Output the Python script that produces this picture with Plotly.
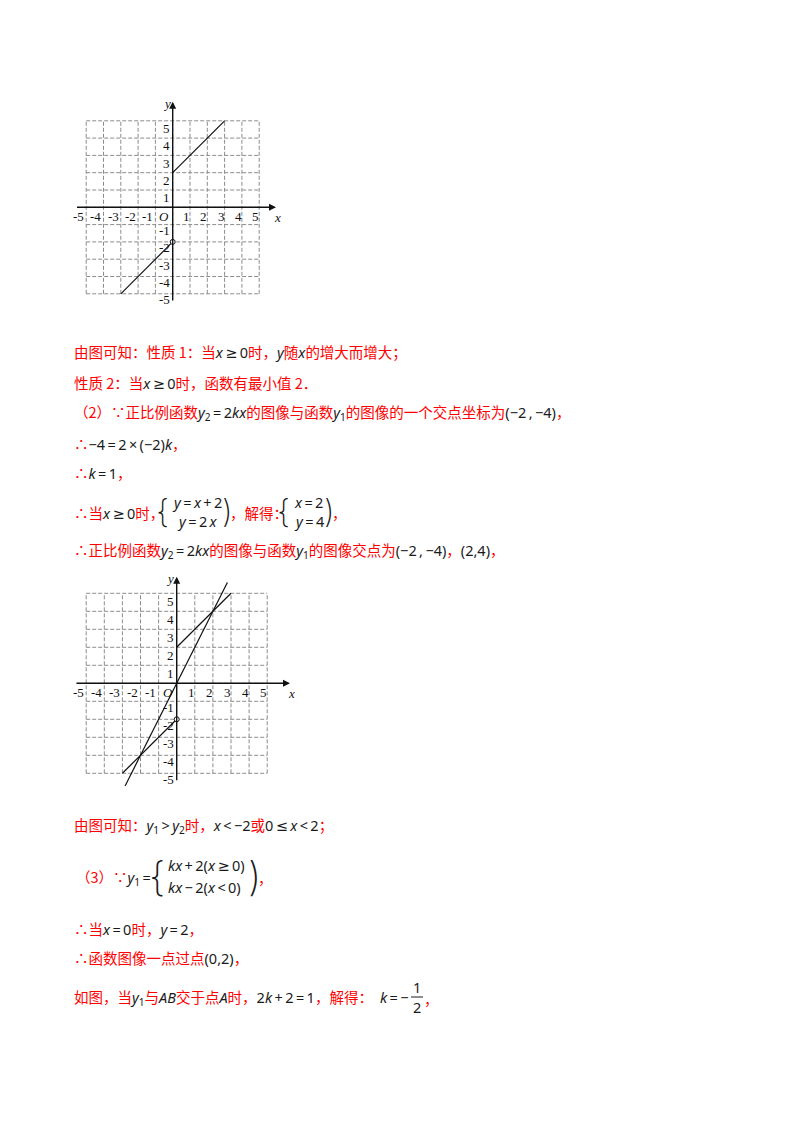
import plotly.graph_objects as go

# ---- data ----
grid_vals = [-5, -4, -3, -2, -1, 0, 1, 2, 3, 4, 5]
tick_vals = [-5, -4, -3, -2, -1, 1, 2, 3, 4, 5]
tick_text = ["-5", "-4", "-3", "-2", "-1", "1", "2", "3", "4", "5"]

# y1 = x + 2 (x >= 0) and y1 = x - 2 (x < 0)
upper_x = [0, 3]
upper_y = [2, 5]
lower_x = [-3, 0]
lower_y = [-5, -2]
hole_x = [0]
hole_y = [-2]
# y2 = 2x
prop_x = [-2.85, 2.8]
prop_y = [-5.7, 5.6]

W, H = 800, 1132
OFF = 8  # page body margin
RED = "#ff0000"
INK = "#1a1a1a"
CJK = "Noto Sans CJK SC, Noto Sans, sans-serif"
SERIF = "Liberation Serif, serif"
FS = 14.5

# pixel geometry of the two grids: origin, unit, box (page pixels)
graphs = [
    dict(ox=172.7, oy=207.3, ux=17.3, uy=17.3, box=(60, 300, 90, 320), both=False),
    dict(ox=176.7, oy=683.3, ux=18.1, uy=18.0, box=(60, 310, 560, 800), both=True),
]

fig = go.Figure()
annos = []


def R(s):
    return f"<span style='color:{RED}'>{s}</span>"


def M(s):
    return f"<span style='color:{INK};font-family:Noto Sans,DejaVu Sans,sans-serif'>{s}</span>"


for i, g in enumerate(graphs):
    n = "" if i == 0 else str(i + 1)
    xa, ya = "x" + n, "y" + n
    ox, oy = g["ox"] - OFF, g["oy"] - OFF
    x0, x1, y0, y1 = [v - OFF for v in g["box"]]
    fig.update_layout({
        "xaxis" + n: dict(domain=[x0 / W, x1 / W], range=[(x0 - ox) / g["ux"], (x1 - ox) / g["ux"]],
                          visible=False, fixedrange=True, anchor=ya),
        "yaxis" + n: dict(domain=[1 - y1 / H, 1 - y0 / H], range=[(oy - y1) / g["uy"], (oy - y0) / g["uy"]],
                          visible=False, fixedrange=True, anchor=xa),
    })
    # dashed grid
    gx, gy = [], []
    for v in grid_vals:
        gx += [v, v, None, grid_vals[0], grid_vals[-1], None]
        gy += [grid_vals[0], grid_vals[-1], None, v, v, None]
    fig.add_trace(go.Scatter(x=gx, y=gy, mode="lines", xaxis=xa, yaxis=ya, showlegend=False, hoverinfo="skip",
                             line=dict(color="#8c8c8c", width=1, dash="4px,2px")))
    # function lines
    fig.add_trace(go.Scatter(x=upper_x, y=upper_y, mode="lines", xaxis=xa, yaxis=ya, showlegend=False,
                             line=dict(color="#111", width=1.2)))
    fig.add_trace(go.Scatter(x=lower_x, y=lower_y, mode="lines", xaxis=xa, yaxis=ya, showlegend=False,
                             line=dict(color="#111", width=1.2)))
    if g["both"]:
        fig.add_trace(go.Scatter(x=prop_x, y=prop_y, mode="lines", xaxis=xa, yaxis=ya, showlegend=False,
                                 line=dict(color="#111", width=1.2)))
    fig.add_trace(go.Scatter(x=hole_x, y=hole_y, mode="markers", xaxis=xa, yaxis=ya, showlegend=False,
                             marker=dict(size=5, color="white", line=dict(color="#111", width=1))))
    # axes with arrows
    xl = -5.62
    xr = 5.97 if i == 0 else 6.26
    yb = -5.47
    yt = 6.1 if i == 0 else 5.92
    for (tx, ty, sx, sy) in [(xr, 0, xl, 0), (0, yt, 0, yb)]:
        annos.append(dict(x=tx, y=ty, ax=sx, ay=sy, xref=xa, yref=ya, axref=xa, ayref=ya, text="",
                          showarrow=True, arrowhead=2, arrowsize=1, arrowwidth=1.4, arrowcolor="#111"))
    # tick labels
    for v, t in zip(tick_vals, tick_text):
        dx = -0.45 if v < 0 else -0.2
        annos.append(dict(x=v + dx, y=0, xref=xa, yref=ya, text=t, showarrow=False, yshift=-9,
                          font=dict(family=SERIF, size=13, color="#111")))
        dy = -0.35 if v < 0 else -0.45
        annos.append(dict(x=0, y=v + dy, xref=xa, yref=ya, text=t, showarrow=False, xanchor="right", xshift=-1,
                          font=dict(family=SERIF, size=13, color="#111")))
    annos.append(dict(x=-0.5, y=0, xref=xa, yref=ya, text="<i>O</i>", showarrow=False, yshift=-9,
                      font=dict(family=SERIF, size=13, color="#111")))
    annos.append(dict(x=xr + 0.1, y=0, xref=xa, yref=ya, text="<i>x</i>", showarrow=False, yshift=-10,
                      font=dict(family=SERIF, size=13, color="#111")))
    annos.append(dict(x=-0.35, y=yt - 0.1, xref=xa, yref=ya, text="<i>y</i>", showarrow=False,
                      font=dict(family=SERIF, size=13, color="#111")))


def line(px, py, text, size=FS, anchor="left", family=CJK, weight="normal"):
    annos.append(dict(x=(px - OFF) / W, y=1 - (py - OFF) / H, xref="paper", yref="paper", text=text,
                      showarrow=False, xanchor=anchor, yanchor="middle", borderpad=0,
                      font=dict(family=family, size=size, color=RED, weight=weight)))


def brace(px, py, ch, size, anchor):
    line(px, py, f"<span style='color:{INK}'>{ch}</span>", size=size, anchor=anchor,
         family="Inter, Lato, Noto Sans, sans-serif", weight=200)


T = "\u2009"  # thin space around operators
lt = 73
line(lt, 352, R("由图可知：性质 1：当") + M(f"<i>x</i>{T}≥{T}0") + R("时，") + M("<i>y</i>") + R("随") + M("<i>x</i>")
     + R("的增大而增大；"))
line(lt, 382, R("性质 2：当") + M(f"<i>x</i>{T}≥{T}0") + R("时，函数有最小值 2．"))
line(lt, 412, R("（2）∵正比例函数") + M(f"<i>y</i><sub>2</sub>{T}={T}2<i>kx</i>") + R("的图像与函数")
     + M("<i>y</i><sub>1</sub>") + R("的图像的一个交点坐标为") + M(f"(−2{T},{T}−4)") + R("，"))
line(lt, 443, R("∴") + M(f"−4{T}={T}2{T}×{T}(−2)<i>k</i>") + R("，"))
line(lt, 472, R("∴") + M(f"<i>k</i>{T}={T}1") + R("，"))
# system of equations
line(lt, 512, R("∴当") + M(f"<i>x</i>{T}≥{T}0") + R("时，"))
brace(170, 511, "{", 32, "right")
line(171, 502, M(f"<i>y</i>{T}={T}<i>x</i>{T}+{T}2"))
line(176, 521, M(f"<i>y</i>{T}={T}2{T}<i>x</i>"))
brace(221, 511, ")", 32, "left")
line(229, 512, R("，解得："))
brace(291, 511, "{", 32, "right")
line(293, 502, M(f"<i>x</i>{T}={T}2"))
line(293, 521, M(f"<i>y</i>{T}={T}4"))
brace(323, 511, ")", 32, "left")
line(331, 512, R("，"))
line(lt, 550, R("∴正比例函数") + M(f"<i>y</i><sub>2</sub>{T}={T}2<i>kx</i>") + R("的图像与函数") + M("<i>y</i><sub>1</sub>")
     + R("的图像交点为") + M(f"(−2{T},{T}−4)") + R("，") + M("(2,4)") + R("，"))

line(lt, 825, R("由图可知：") + M(f"<i>y</i><sub>1</sub>{T}&gt;{T}<i>y</i><sub>2</sub>") + R("时，")
     + M(f"<i>x</i>{T}&lt;{T}−2") + R("或") + M(f"0{T}≤{T}<i>x</i>{T}&lt;{T}2") + R("；"))
line(75, 877, R("（3）∵") + M(f"<i>y</i><sub>1</sub>{T}="))
brace(166, 876, "{", 40, "right")
line(167, 865, M(f"<i>kx</i>{T}+{T}2(<i>x</i>{T}≥{T}0)"))
line(167, 887, M(f"<i>kx</i>{T}−{T}2(<i>x</i>{T}&lt;{T}0)"))
brace(247, 876, ")", 40, "left")
line(257, 877, R("，"))
line(lt, 928, R("∴当") + M(f"<i>x</i>{T}={T}0") + R("时，") + M(f"<i>y</i>{T}={T}2") + R("，"))
line(lt, 957, R("∴函数图像一点过点") + M("(0,2)") + R("，"))
line(lt, 997, R("如图，当") + M("<i>y</i><sub>1</sub>") + R("与") + M("<i>AB</i>") + R("交于点") + M("<i>A</i>")
     + R("时，") + M(f"2<i>k</i>{T}+{T}2{T}={T}1") + R("，解得："))
line(410, 997, M(f"<i>k</i>{T}={T}−"), anchor="right")
line(417, 987, M("1"), anchor="center")
line(417, 1007, M("2"), anchor="center")
line(423, 998, R("，"))

fig.add_shape(type="line", xref="paper", yref="paper", x0=(411 - OFF) / W, x1=(423 - OFF) / W,
              y0=1 - (997 - OFF) / H, y1=1 - (997 - OFF) / H, line=dict(color=INK, width=1))

fig.update_layout(width=W, height=H, margin=dict(l=0, r=0, t=0, b=0), paper_bgcolor="white",
                  plot_bgcolor="rgba(0,0,0,0)", annotations=annos, showlegend=False)

fig.write_html("out.html")
